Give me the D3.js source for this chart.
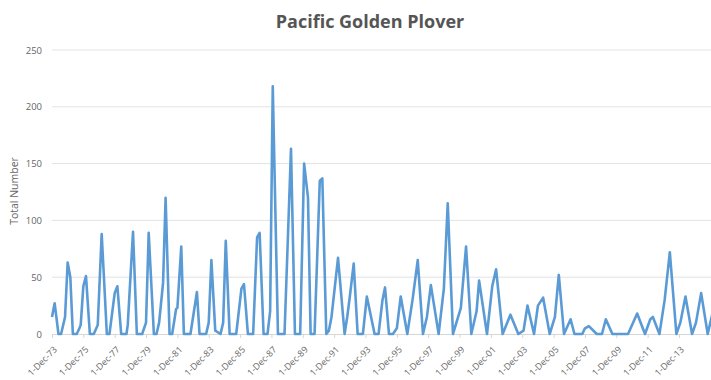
<!DOCTYPE html>
<html>
<head>
<meta charset="utf-8">
<script src="https://cdn.jsdelivr.net/npm/d3@7"></script>
<style>
  html, body { margin: 0; padding: 0; background: #fff; }
  svg { display: block; }
</style>
</head>
<body>
<svg id="chart" width="711" height="380"></svg>
<script>
const title = "Pacific Golden Plover";
const yTitle = "Total Number";
const yTicks = [0, 50, 100, 150, 200, 250];
const xTickYears = [1973, 1975, 1977, 1979, 1981, 1983, 1985, 1987, 1989, 1991, 1993, 1995, 1997, 1999, 2001, 2003, 2005, 2007, 2009, 2011, 2013];

const dates = [
  "1973-12","1974-02","1974-05","1974-07","1974-10","1974-12","1975-02","1975-04","1975-07","1975-09","1975-10","1975-12",
  "1976-02","1976-05","1976-08","1976-11","1977-02","1977-06","1977-08","1977-12","1978-02","1978-05","1978-09","1978-10",
  "1979-02","1979-05","1979-09","1979-12","1980-02","1980-06","1980-08","1980-10","1981-01","1981-03","1981-06","1981-08",
  "1981-11","1981-12","1982-03","1982-05","1982-10","1983-03","1983-05","1983-10","1983-12","1984-02","1984-05","1984-09",
  "1984-11","1985-01","1985-04","1985-09","1986-01","1986-03","1986-06","1986-10","1987-01","1987-03","1987-06","1987-09",
  "1987-11","1988-01","1988-05","1988-10","1989-03","1989-06","1989-10","1990-01","1990-04","1990-06","1990-09","1991-01",
  "1991-03","1991-06","1991-08","1991-10","1992-03","1992-08","1992-10","1992-12","1993-03","1993-06","1993-10","1994-01",
  "1994-07","1994-10","1995-01","1995-03","1995-06","1995-09","1995-12","1996-03","1996-08","1996-12","1997-04","1997-08",
  "1997-11","1998-02","1998-08","1998-12","1999-03","1999-07","2000-01","2000-05","2000-09","2001-01","2001-03","2001-09",
  "2002-01","2002-04","2002-09","2003-03","2003-09","2004-01","2004-04","2004-09","2004-12","2005-04","2005-09","2006-01",
  "2006-04","2006-08","2007-01","2007-04","2007-10","2007-12","2008-03","2008-09","2009-01","2009-04","2009-09","2010-09",
  "2011-04","2011-10","2012-02","2012-04","2012-09","2013-01","2013-05","2013-10","2014-01","2014-05","2014-10","2015-01",
  "2015-05","2015-10","2016-02"
];
const counts = [
  15,27,0,0,15,63,50,0,0,5,8,42,
  51,0,0,8,88,0,0,36,42,0,0,8,
  90,0,0,10,89,0,0,10,45,120,0,0,
  22,23,77,0,0,37,0,0,10,65,3,0,
  10,82,0,0,40,44,0,0,85,89,0,0,
  20,218,0,0,163,0,0,150,120,0,0,135,
  137,0,3,15,67,0,15,33,62,0,0,33,
  0,0,30,41,0,0,5,33,0,30,65,0,
  15,43,0,40,115,0,23,77,0,20,47,0,
  42,57,0,17,0,3,25,0,25,32,0,15,
  52,0,13,0,0,5,7,0,0,13,0,0,
  18,0,13,15,0,30,72,0,10,33,0,10,
  36,0,20
];

const W = 711, H = 380;
const plotLeft = 52, plotRight = 711;
const y0 = 334, yTop = 50;

const parse = d3.timeParse("%Y-%m");
const data = dates.map((d, i) => ({ date: parse(d), value: counts[i] }));

const svg = d3.select("#chart");

const x = d3.scaleTime()
  .domain([new Date(1973, 11, 1), new Date(2013, 11, 1)])
  .range([52, 679]);
const y = d3.scaleLinear().domain([0, 250]).range([y0, yTop]);

// Title
svg.append("text")
  .attr("x", 370).attr("y", 28)
  .attr("text-anchor", "middle")
  .attr("font-family", "'Open Sans', sans-serif")
  .attr("font-weight", "bold")
  .attr("font-size", 18)
  .attr("fill", "#555")
  .text(title);

// Gridlines
svg.append("g").selectAll("line")
  .data(yTicks.filter(t => t > 0))
  .join("line")
  .attr("x1", plotLeft).attr("x2", plotRight)
  .attr("y1", d => y(d)).attr("y2", d => y(d))
  .attr("stroke", "#e3e3e3").attr("stroke-width", 1);

// Y axis labels
const yAxis = d3.axisLeft(y).tickValues(yTicks).tickSize(0).tickPadding(10);
const gy = svg.append("g").attr("transform", `translate(${plotLeft},0)`).call(yAxis);
gy.select(".domain").remove();
gy.selectAll("text")
  .attr("font-family", "'Open Sans', sans-serif")
  .attr("font-size", 9.5)
  .attr("fill", "#666");

// Y title
svg.append("text")
  .attr("transform", "translate(18,191) rotate(-90)")
  .attr("text-anchor", "middle")
  .attr("font-family", "'Open Sans', sans-serif")
  .attr("font-size", 10.5)
  .attr("fill", "#666")
  .text(yTitle);

// X axis
const xAxis = d3.axisBottom(x)
  .tickValues(xTickYears.map(yr => new Date(yr, 11, 1)))
  .tickSize(4)
  .tickSizeOuter(0)
  .tickFormat(d3.timeFormat("1-Dec-%y"));
const gx = svg.append("g").attr("transform", `translate(0,${y0})`).call(xAxis);
gx.select(".domain").attr("d", `M${plotLeft},0.5H${plotRight}`).attr("stroke", "#d6d6d6");
gx.selectAll(".tick line").attr("stroke", "#d6d6d6");
gx.selectAll(".tick text")
  .attr("font-family", "'Open Sans', sans-serif")
  .attr("font-size", 9)
  .attr("fill", "#666")
  .attr("text-anchor", "end")
  .attr("transform", "translate(3,14) rotate(-45)")
  .attr("dy", "0.35em")
  .attr("y", 0)
  .attr("x", 0);

// Clip
svg.append("clipPath").attr("id", "clip")
  .append("rect").attr("x", 40).attr("y", 0).attr("width", plotRight - 40).attr("height", H);

const line = d3.line().x(d => x(d.date)).y(d => y(d.value));
svg.append("path")
  .datum(data)
  .attr("clip-path", "url(#clip)")
  .attr("d", line)
  .attr("fill", "none")
  .attr("stroke", "#5B9BD5")
  .attr("stroke-width", 2.6)
  .attr("stroke-linejoin", "round");
</script>
</body>
</html>
